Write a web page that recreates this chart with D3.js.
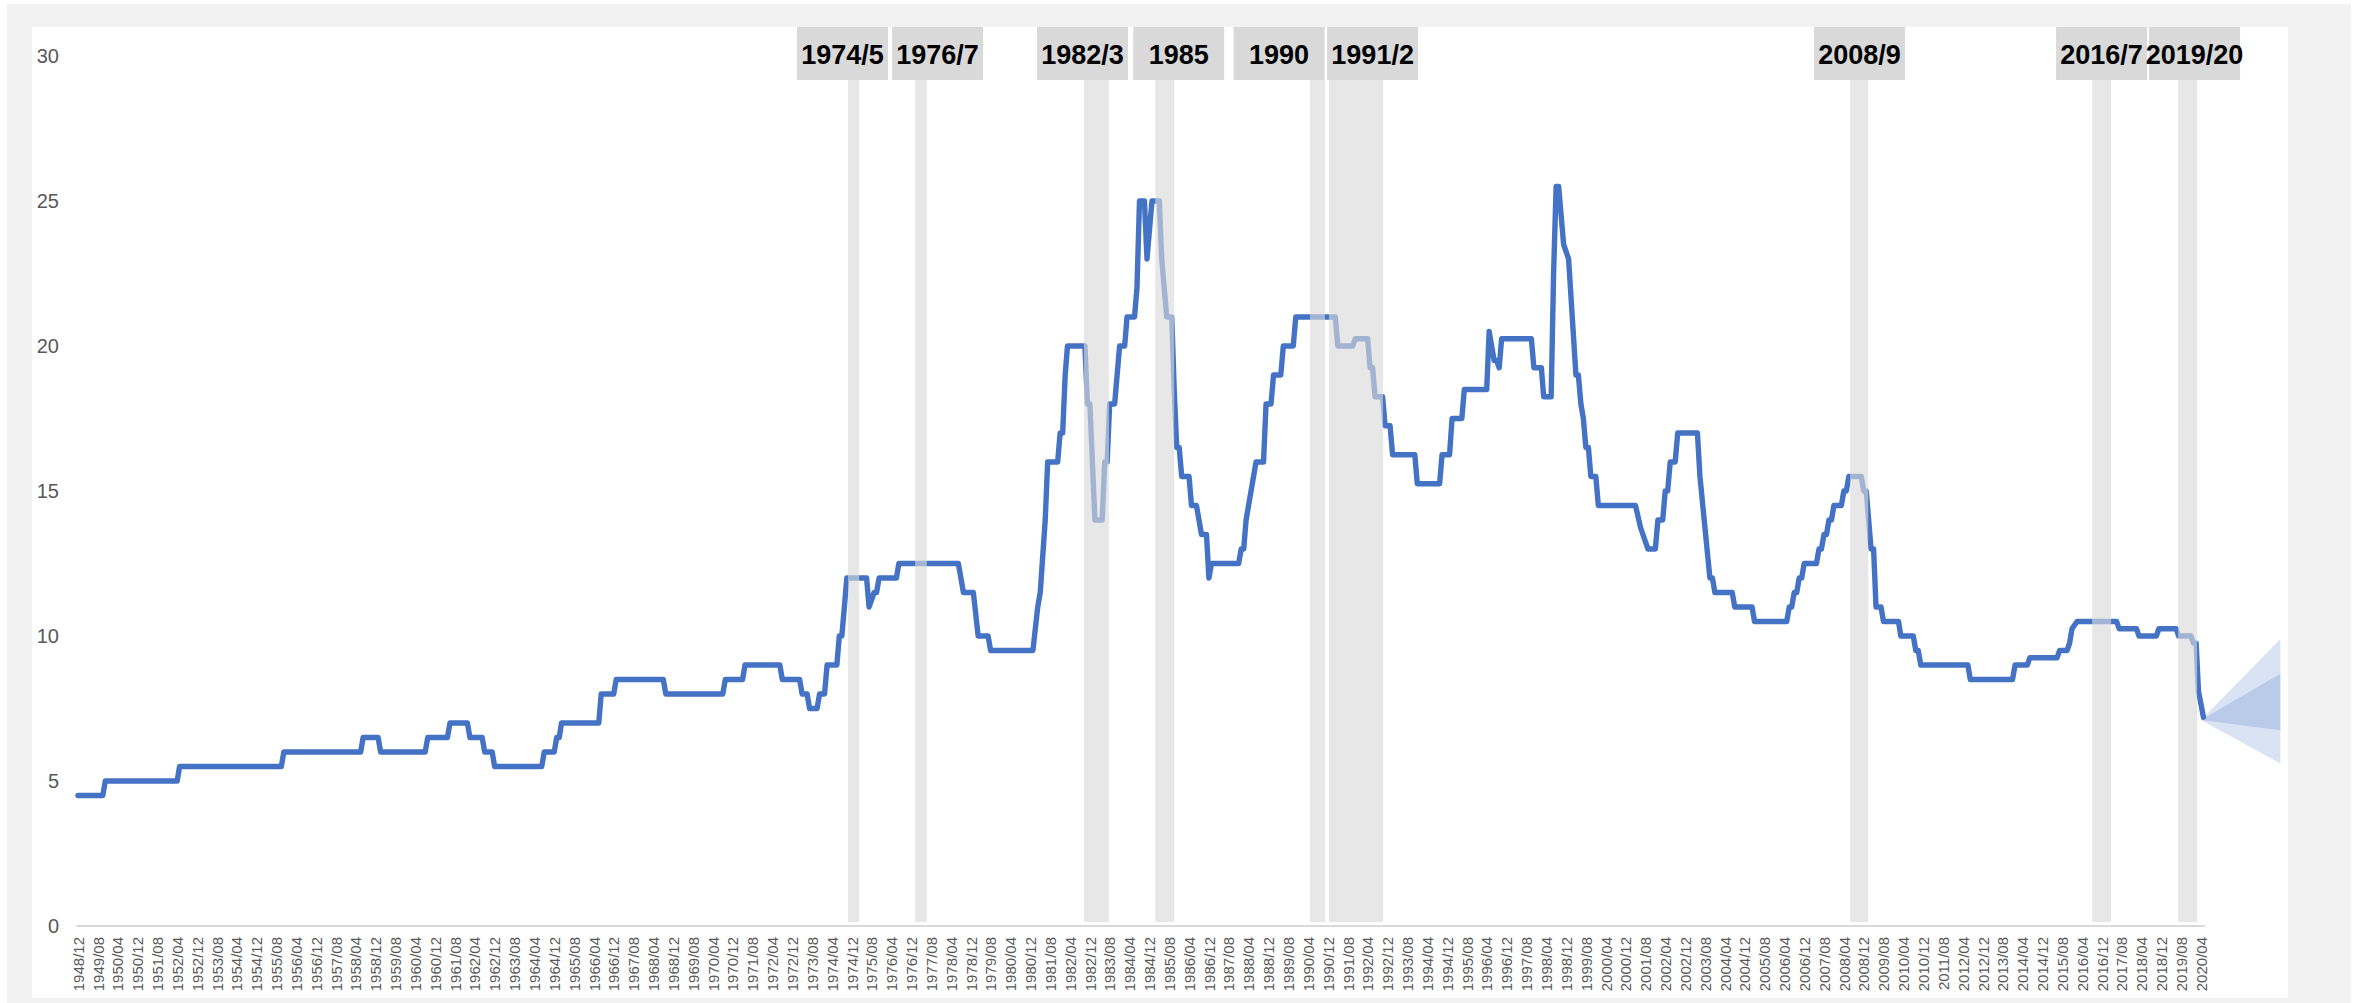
<!DOCTYPE html>
<html>
<head>
<meta charset="utf-8">
<script src="https://cdn.jsdelivr.net/npm/d3@7"></script>
<style>
    body { margin: 0; background: #fff; }
    svg { display: block; font-family: "Liberation Sans", Arial, sans-serif; }
</style>
</head>
<body>
<svg id="chart"></svg>
<script>
// policy rate, vertices of the monthly line (month, %)
var dates = [
    "1948-12","1949-10","1949-11","1952-04","1952-05","1955-10","1955-11","1958-06","1958-07","1959-01",
    "1959-02","1960-08","1960-09","1961-05","1961-06","1962-01","1962-02","1962-07","1962-08","1962-11",
    "1962-12","1964-07","1964-08","1964-12","1965-01","1965-02","1965-03","1966-06","1966-07","1966-12",
    "1967-01","1968-08","1968-09","1970-08","1970-09","1971-04","1971-05","1972-07","1972-08","1973-03",
    "1973-04","1973-06","1973-07","1973-10","1973-11","1974-01","1974-02","1974-06","1974-07","1974-08",
    "1974-09","1974-10","1975-06","1975-07","1975-09","1975-10","1975-11","1976-06","1976-07","1978-07",
    "1978-09","1979-01","1979-03","1979-07","1979-08","1981-01","1981-03","1981-04","1981-06","1981-07",
    "1981-11","1981-12","1982-01","1982-02","1982-03","1982-10","1982-11","1982-12","1983-02","1983-05",
    "1983-06","1983-07","1983-08","1983-10","1983-12","1984-02","1984-03","1984-06","1984-07","1984-08",
    "1984-10","1984-11","1985-01","1985-04","1985-05","1985-07","1985-09","1985-10","1985-11","1985-12",
    "1986-01","1986-04","1986-05","1986-07","1986-09","1986-11","1986-12","1987-01","1987-12","1988-01",
    "1988-02","1988-03","1988-05","1988-07","1988-10","1988-11","1989-01","1989-02","1989-05","1989-06",
    "1989-10","1989-11","1991-03","1991-04","1991-10","1991-11","1992-04","1992-05","1992-06","1992-07",
    "1992-10","1992-11","1993-01","1993-02","1993-11","1993-12","1994-09","1994-10","1995-01","1995-02",
    "1995-06","1995-07","1996-04","1996-05","1996-07","1996-08","1996-09","1996-10","1997-10","1997-11",
    "1998-02","1998-03","1998-06","1998-07","1998-08","1998-09","1998-11","1999-01","1999-04","1999-05",
    "1999-06","1999-07","1999-08","1999-09","1999-10","1999-12","2000-01","2001-04","2001-06","2001-07",
    "2001-09","2001-12","2002-01","2002-03","2002-04","2002-05","2002-06","2002-08","2002-09","2003-05",
    "2003-06","2003-10","2003-11","2003-12","2004-07","2004-08","2005-03","2005-04","2006-05","2006-06",
    "2006-07","2006-08","2006-09","2006-10","2006-11","2006-12","2007-05","2007-06","2007-07","2007-08",
    "2007-09","2007-10","2007-11","2007-12","2008-03","2008-04","2008-05","2008-06","2008-11","2008-12",
    "2009-01","2009-03","2009-04","2009-05","2009-07","2009-08","2010-02","2010-03","2010-08","2010-09",
    "2010-10","2010-11","2012-06","2012-07","2013-12","2014-01","2014-06","2014-07","2015-06","2015-07",
    "2015-10","2015-11","2015-12","2016-02","2017-06","2017-07","2018-02","2018-03","2018-10","2018-11",
    "2019-06","2019-07","2019-12","2020-01","2020-02","2020-03","2020-05"
];
var rates = [
    4.5, 4.5, 5, 5, 5.5, 5.5, 6, 6, 6.5, 6.5,
    6, 6, 6.5, 6.5, 7, 7, 6.5, 6.5, 6, 6,
    5.5, 5.5, 6, 6, 6.5, 6.5, 7, 7, 8, 8,
    8.5, 8.5, 8, 8, 8.5, 8.5, 9, 9, 8.5, 8.5,
    8, 8, 7.5, 7.5, 8, 8, 9, 9, 10, 10,
    11, 12, 12, 11, 11.5, 11.5, 12, 12, 12.5, 12.5,
    11.5, 11.5, 10, 10, 9.5, 9.5, 11, 11.5, 14, 16,
    16, 17, 17, 19, 20, 20, 18, 18, 14, 14,
    16, 16, 18, 18, 20, 20, 21, 21, 22, 25,
    25, 23, 25, 25, 23, 21, 21, 18.5, 16.5, 16.5,
    15.5, 15.5, 14.5, 14.5, 13.5, 13.5, 12, 12.5, 12.5, 13,
    13, 14, 15, 16, 16, 18, 18, 19, 19, 20,
    20, 21, 21, 20, 20, 20.25, 20.25, 19.25, 19.25, 18.25,
    18.25, 17.25, 17.25, 16.25, 16.25, 15.25, 15.25, 16.25, 16.25, 17.5,
    17.5, 18.5, 18.5, 20.5, 19.5, 19.5, 19.25, 20.25, 20.25, 19.25,
    19.25, 18.25, 18.25, 22.5, 25.5, 25.5, 23.5, 23, 19, 19,
    18, 17.5, 16.5, 16.5, 15.5, 15.5, 14.5, 14.5, 13.75, 13.5,
    13, 13, 14, 14, 15, 15, 16, 16, 17, 17,
    15.5, 12, 12, 11.5, 11.5, 11, 11, 10.5, 10.5, 11,
    11, 11.5, 11.5, 12, 12, 12.5, 12.5, 13, 13, 13.5,
    13.5, 14, 14, 14.5, 14.5, 15, 15, 15.5, 15.5, 15,
    15, 13, 13, 11, 11, 10.5, 10.5, 10, 10, 9.5,
    9.5, 9, 9, 8.5, 8.5, 9, 9, 9.25, 9.25, 9.5,
    9.5, 9.75, 10.25, 10.5, 10.5, 10.25, 10.25, 10, 10, 10.25,
    10.25, 10, 10, 9.75, 9.75, 8.1, 7.2
];

// shaded episodes and their captions
var bandStart = ["1974-10-16","1977-01-16","1982-09-19","1985-02-10","1990-04-25","1990-12-13","2008-06-16","2016-08-04","2019-06-25"];
var bandEnd   = ["1975-03-01","1977-06-10","1983-07-22","1985-10-01","1990-10-25","1992-10-07","2009-01-25","2017-03-25","2020-02-13"];
var bandLabels = ["1974/5","1976/7","1982/3","1985","1990","1991/2","2008/9","2016/7","2019/20"];
var labelAt    = ["1974-08-10","1977-10-19","1982-09-01","1985-11-25","1989-04-10","1992-06-01","2008-10-10","2016-11-28","2020-01-13"];

// forecast fan
var fanDates = ["2020-04", "2022-12"];
var fanOuterHi = [7.1, 9.9], fanOuterLo = [7.1, 5.6];
var fanInnerHi = [7.1, 8.7], fanInnerLo = [7.1, 6.75];

var yTicks = [0, 5, 10, 15, 20, 25, 30];
var tickFirst = "1948-12", tickLast = "2020-04", tickEvery = 8;

function rateChart() {
    var width = 2362,
        height = 1003;

    function chart(svg) {
        var parseMonth = d3.utcParse("%Y-%m"),
            parseDay = d3.utcParse("%Y-%m-%d");

        var series = dates.map(function(d, i) { return {date: parseMonth(d), value: rates[i]}; });

        var xScale = d3.scaleUtc()
            .domain([parseMonth(tickFirst), parseMonth(tickLast)])
            .range([78, 2201]);
        var yScale = d3.scaleLinear()
            .domain([0, 30])
            .range([926, 56]);

        svg.attr("width", width).attr("height", height);

        // frame
        svg.append("rect").attr("x", 7).attr("y", 4)
            .attr("width", 2344).attr("height", height).attr("fill", "#f2f2f2");
        svg.append("rect").attr("x", 32).attr("y", 27)
            .attr("width", 2256).attr("height", 971).attr("fill", "#fff");

        // fan
        var fan = function(hi, lo) {
            return d3.area()
                .x(function(d) { return xScale(parseMonth(d)); })
                .y0(function(d, i) { return yScale(lo[i]); })
                .y1(function(d, i) { return yScale(hi[i]); })(fanDates);
        };
        svg.append("path").attr("d", fan(fanOuterHi, fanOuterLo))
            .attr("fill", "#4472c4").attr("fill-opacity", 0.2);
        svg.append("path").attr("d", fan(fanInnerHi, fanInnerLo))
            .attr("fill", "#4472c4").attr("fill-opacity", 0.21);

        // rate line
        var line = d3.line()
            .x(function(d) { return xScale(d.date); })
            .y(function(d) { return yScale(d.value); });
        svg.append("path")
            .datum(series)
            .attr("d", line)
            .attr("fill", "none")
            .attr("stroke", "#4472c4")
            .attr("stroke-width", 5.4)
            .attr("stroke-linejoin", "round")
            .attr("stroke-linecap", "round");

        // bands sit over the line, semi transparent
        svg.append("g").selectAll("rect")
            .data(bandStart)
            .enter().append("rect")
            .attr("x", function(d) { return xScale(parseDay(d)); })
            .attr("y", 80)
            .attr("width", function(d, i) { return xScale(parseDay(bandEnd[i])) - xScale(parseDay(d)); })
            .attr("height", 842)
            .attr("fill", "#d9d9d9")
            .attr("fill-opacity", 0.64);

        var labels = svg.append("g").selectAll("g")
            .data(bandLabels)
            .enter().append("g")
            .attr("transform", function(d, i) { return "translate(" + xScale(parseDay(labelAt[i])) + ",27)"; });
        labels.append("rect")
            .attr("x", -45.5).attr("width", 91).attr("height", 53)
            .attr("fill", "#d9d9d9");
        labels.append("text")
            .attr("y", 28)
            .attr("dy", "0.35em")
            .attr("text-anchor", "middle")
            .style("font-size", "27px")
            .style("font-weight", "bold")
            .attr("fill", "#000")
            .text(function(d) { return d; });

        // x axis
        svg.append("line")
            .attr("x1", xScale(parseMonth(tickFirst)) - 1.5)
            .attr("x2", xScale(parseMonth("2020-05")) + 1.5)
            .attr("y1", 926).attr("y2", 926)
            .attr("stroke", "#d9d9d9").attr("stroke-width", 2);

        var xTicks = d3.utcMonth.range(parseMonth(tickFirst), d3.utcMonth.offset(parseMonth(tickLast), 1), tickEvery);
        var xAxis = svg.append("g")
            .attr("transform", "translate(0,926)")
            .call(d3.axisBottom(xScale).tickValues(xTicks).tickFormat(d3.utcFormat("%Y/%m")).tickSize(0));
        xAxis.select(".domain").remove();
        xAxis.selectAll("text")
            .attr("transform", "rotate(-90)")
            .attr("text-anchor", "end")
            .attr("x", -11)
            .attr("y", 0)
            .attr("dy", "0.35em")
            .attr("fill", "#595959")
            .style("font-size", "15px");

        // y axis
        var yAxis = svg.append("g")
            .attr("transform", "translate(62,0)")
            .call(d3.axisLeft(yScale).tickValues(yTicks).tickSize(0).tickPadding(3));
        yAxis.select(".domain").remove();
        yAxis.selectAll("text")
            .attr("fill", "#595959")
            .style("font-size", "20px");
    }

    chart.width = function(value) {
        if (!arguments.length) return width;
        width = value;
        return chart;
    };

    chart.height = function(value) {
        if (!arguments.length) return height;
        height = value;
        return chart;
    };

    return chart;
}

d3.select("#chart").call(rateChart());
</script>
</body>
</html>
